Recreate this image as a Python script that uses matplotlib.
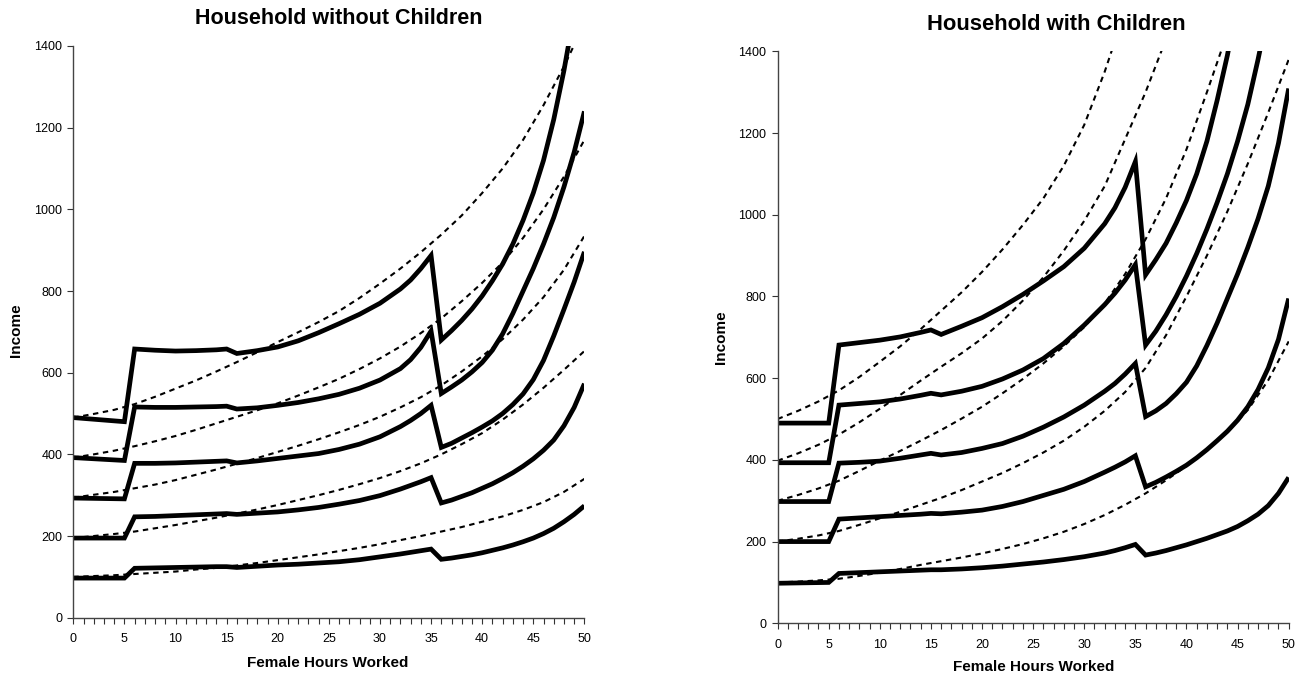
import matplotlib
matplotlib.use("Agg")
import matplotlib.pyplot as plt
from matplotlib.ticker import MultipleLocator

plt.rcParams['font.family'] = ['Liberation Sans', 'DejaVu Sans']

nan = float('nan')

# ---------------- data ----------------
hours_solid = [0, 5, 6, 8, 10, 12, 14, 15, 16, 18, 20, 22, 24, 26, 28, 30, 32, 33, 34, 35,
               36, 37, 38, 39, 40, 41, 42, 43, 44, 45, 46, 47, 48, 49, 50]
hours_dashed = list(range(0, 51, 2))

# Household without Children - solid (income)
nochild_solid_1 = [490, 480, 658, 655, 653, 654, 656, 658, 647, 654, 663, 678, 698, 720, 743, 770, 805, 827, 855, 887,
                   680, 703, 728, 756, 788, 825, 866, 915, 973, 1040, 1120, 1220, 1340, 1480, nan]
nochild_solid_2 = [392, 385, 516, 515, 515, 516, 517, 518, 511, 514, 520, 527, 536, 547, 562, 582, 610, 632, 662, 702,
                   549, 565, 582, 602, 625, 655, 695, 745, 800, 855, 915, 980, 1055, 1140, 1240]
nochild_solid_3 = [293, 291, 378, 378, 379, 381, 383, 384, 379, 384, 390, 396, 402, 412, 425, 443, 468, 483, 500, 520,
                   417, 427, 440, 453, 467, 482, 500, 522, 548, 583, 630, 690, 755, 822, 896]
nochild_solid_4 = [195, 195, 247, 248, 250, 252, 254, 255, 253, 256, 259, 264, 270, 278, 287, 299, 315, 324, 333, 343,
                   281, 288, 297, 306, 317, 328, 341, 355, 371, 389, 410, 435, 470, 515, 573]
nochild_solid_5 = [97, 97, 121, 122, 123, 124, 125, 125, 123, 126, 129, 131, 134, 137, 142, 149, 156, 160, 164, 168,
                   143, 146, 150, 154, 159, 165, 171, 178, 186, 195, 206, 219, 235, 253, 274]

# Household without Children - dashed
nochild_dash_1 = [490, 499, 509, 523, 541, 561, 581, 603, 626, 650, 675, 699, 724,
                  751, 783, 818, 855, 895, 938, 985, 1040, 1100, 1170, 1255, 1350, 1455]
nochild_dash_2 = [392, 400, 409, 420, 432, 445, 460, 476, 492, 508, 525, 544, 564,
                  585, 609, 635, 664, 697, 733, 775, 820, 870, 930, 1000, 1080, 1170]
nochild_dash_3 = [294, 301, 308, 317, 326, 337, 350, 363, 377, 391, 406, 421, 437,
                  454, 472, 492, 515, 540, 569, 603, 640, 682, 730, 785, 852, 935]
nochild_dash_4 = [195, 200, 205, 211, 219, 227, 236, 245, 255, 265, 276, 288, 300,
                  313, 327, 342, 359, 378, 400, 425, 452, 485, 522, 563, 607, 653]
nochild_dash_5 = [100, 102, 104, 107, 110, 113, 118, 122, 128, 134, 141, 148, 155,
                  163, 171, 180, 190, 200, 211, 222, 235, 248, 264, 283, 308, 340]

# Household with Children - solid
child_solid_1 = [490, 490, 681, 687, 693, 701, 712, 718, 707, 727, 748, 775, 805, 838, 873, 918, 978, 1017, 1067, 1130,
                 853, 890, 930, 980, 1035, 1100, 1180, 1280, 1390, 1520, nan, nan, nan, nan, nan]
child_solid_2 = [393, 393, 534, 538, 542, 549, 558, 563, 559, 568, 580, 598, 620, 648, 685, 730, 780, 808, 840, 878,
                 681, 715, 755, 800, 850, 905, 965, 1030, 1100, 1180, 1270, 1380, 1500, nan, nan]
child_solid_3 = [298, 298, 392, 394, 397, 404, 412, 416, 412, 418, 428, 440, 458, 480, 505, 534, 568, 587, 610, 636,
                 506, 520, 538, 562, 590, 630, 680, 735, 795, 855, 920, 990, 1070, 1175, 1309]
child_solid_4 = [200, 200, 255, 258, 261, 264, 267, 269, 268, 272, 277, 286, 298, 313, 328, 347, 370, 382, 395, 410,
                 334, 345, 358, 372, 387, 405, 425, 447, 470, 497, 530, 572, 625, 695, 795]
child_solid_5 = [98, 100, 122, 124, 126, 128, 130, 131, 131, 133, 136, 140, 145, 150, 156, 163, 172, 178, 185, 193,
                 167, 172, 178, 185, 192, 200, 208, 217, 226, 237, 251, 267, 288, 318, 357]

# Household with Children - dashed
child_dash_1 = [500, 520, 543, 570, 603, 640, 678, 720, 765, 810, 860, 915, 975,
                1040, 1120, 1220, 1350, 1500, nan, nan, nan, nan, nan, nan, nan, nan]
child_dash_2 = [398, 416, 437, 462, 492, 525, 559, 594, 628, 661, 697, 740, 790,
                847, 912, 985, 1070, 1185, 1300, 1430, nan, nan, nan, nan, nan, nan]
child_dash_3 = [300, 314, 330, 349, 373, 398, 422, 447, 473, 501, 530, 563, 598,
                636, 678, 725, 783, 855, 940, 1040, 1160, 1300, 1445, nan, nan, nan]
child_dash_4 = [200, 207, 215, 226, 241, 257, 273, 290, 307, 326, 347, 368, 392,
                418, 447, 481, 520, 566, 625, 705, 800, 900, 1008, 1125, 1250, 1380]
child_dash_5 = [100, 102, 105, 109, 116, 124, 133, 143, 152, 161, 171, 182, 194,
                208, 224, 243, 265, 290, 318, 350, 385, 424, 468, 522, 595, 690]

x_ticks = list(range(0, 51, 5))
y_ticks = list(range(0, 1401, 200))

panels = [
    dict(title="Household without Children",
         solids=[nochild_solid_1, nochild_solid_2, nochild_solid_3, nochild_solid_4, nochild_solid_5],
         dashes=[nochild_dash_1, nochild_dash_2, nochild_dash_3, nochild_dash_4, nochild_dash_5]),
    dict(title="Household with Children",
         solids=[child_solid_1, child_solid_2, child_solid_3, child_solid_4, child_solid_5],
         dashes=[child_dash_1, child_dash_2, child_dash_3, child_dash_4, child_dash_5]),
]

# ---------------- layout ----------------
W, H = 1307, 682
fig = plt.figure(figsize=(W / 100, H / 100), dpi=100)
axes_rects = [
    [73.3 / W, 1 - 617.7 / H, 511.1 / W, 571.7 / H],
    [777.6 / W, 1 - 623.3 / H, 511.1 / W, 572.0 / H],
]
title_pos = [(339, 19), (1056, 24)]
xlabel_pos = [(328, 663), (1034, 667)]
ylabel_pos = [(16, 330), (721, 337)]
title_sizes = [15.5, 15.8]

for p, rect, tp, xp, yp, ts in zip(panels, axes_rects, title_pos, xlabel_pos, ylabel_pos, title_sizes):
    ax = fig.add_axes(rect)
    for d in p["dashes"]:
        ax.plot(hours_dashed, d, color="black", lw=1.5, dashes=(2.6, 2.2))
    for s in p["solids"]:
        ax.plot(hours_solid, s, color="black", lw=3.4, solid_joinstyle="miter",
                solid_capstyle="butt")
    ax.set_xlim(0, 50)
    ax.set_ylim(0, 1400)
    ax.set_xticks(x_ticks)
    ax.set_yticks(y_ticks)
    ax.xaxis.set_minor_locator(MultipleLocator(1))
    for side in ("top", "right"):
        ax.spines[side].set_visible(False)
    for side in ("left", "bottom"):
        ax.spines[side].set_color("#444444")
        ax.spines[side].set_linewidth(1.0)
    ax.tick_params(axis="both", which="both", direction="out", color="#333333",
                   width=0.8, labelsize=9)
    ax.tick_params(axis="x", which="major", length=4, pad=7)
    ax.tick_params(axis="x", which="minor", length=4)
    ax.tick_params(axis="y", which="major", length=4, pad=4)
    ax.set_facecolor("white")

    fig.text(tp[0] / W, 1 - tp[1] / H, p["title"], ha="center", va="center",
             fontsize=ts, fontweight="bold")
    fig.text(xp[0] / W, 1 - xp[1] / H, "Female Hours Worked", ha="center", va="center",
             fontsize=11, fontweight="bold")
    fig.text(yp[0] / W, 1 - yp[1] / H, "Income", ha="center", va="center",
             fontsize=11, fontweight="bold", rotation=90)

fig.savefig("out.png", dpi=100, facecolor="white")
